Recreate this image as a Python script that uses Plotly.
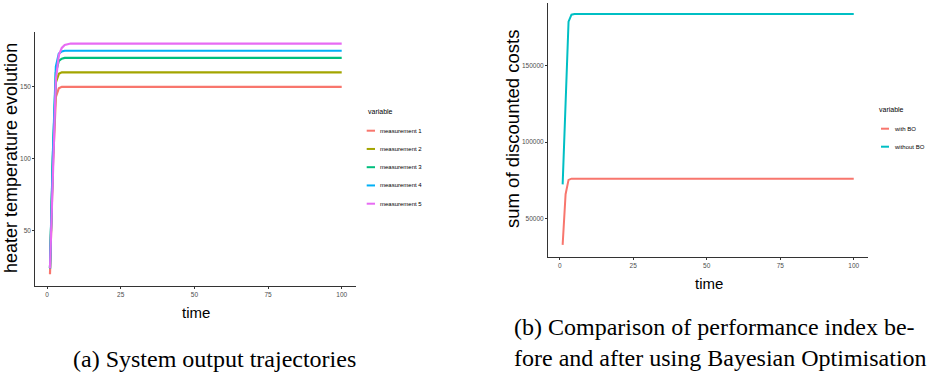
import plotly.graph_objects as go

# ---------------- data ----------------
time_a = [1, 2, 3, 4, 5, 6, 8, 10, 100]
measurement_1 = [20, 95, 143, 149, 150, 150, 150, 150, 150]
measurement_2 = [24, 100, 153, 159, 160, 160, 160, 160, 160]
measurement_3 = [24, 103, 160, 168, 169.5, 170, 170, 170, 170]
measurement_4 = [24, 105, 164, 173, 174.5, 175, 175, 175, 175]
measurement_5 = [24, 95, 155, 172, 177, 179, 180, 180, 180]
names_a = ["measurement 1", "measurement 2", "measurement 3", "measurement 4", "measurement 5"]

time_b = [1, 2, 3, 4, 5, 100]
with_bo = [33000, 66000, 75300, 76100, 76100, 76100]
without_bo = [72400, 127000, 178400, 183000, 183400, 183400]
names_b = ["with BO", "without BO"]

x_ticks = [0, 25, 50, 75, 100]
y_ticks_a = [50, 100, 150]
y_ticks_b = [50000, 100000, 150000]
y_ticklabels_b = ["50000", "100000", "150000"]

# ---------------- styles ----------------
W, H = 930, 374
colors_a = ["#F8766D", "#A3A500", "#00BF7D", "#00B0F6", "#E76BF3"]
colors_b = ["#F8766D", "#00BFC4"]
NARROW = "Liberation Sans Narrow, Arial Narrow, Liberation Sans, Arial, sans-serif"
SANS = "Liberation Sans, Arial, sans-serif"
SERIF = "Liberation Serif, Times New Roman, serif"


def px(x):
    return x / W


def py(y):
    return 1 - y / H


fig = go.Figure()
series_a = [measurement_1, measurement_2, measurement_3, measurement_4, measurement_5]
for name, vals, col in zip(names_a, series_a, colors_a):
    fig.add_trace(go.Scatter(x=time_a, y=vals, mode="lines", name=name,
                             line=dict(color=col, width=2.2), xaxis="x", yaxis="y",
                             showlegend=False))
for name, vals, col in zip(names_b, [with_bo, without_bo], colors_b):
    fig.add_trace(go.Scatter(x=time_b, y=vals, mode="lines", name=name,
                             line=dict(color=col, width=2), xaxis="x2", yaxis="y2",
                             showlegend=False))

axis_common = dict(showline=True, linecolor="#333333", linewidth=1.3, ticks="outside",
                   ticklen=2, tickwidth=1, tickcolor="#333333", showgrid=False,
                   zeroline=False, tickfont=dict(family=NARROW, size=6.5, color="#4D4D4D"))

fig.update_layout(
    width=W, height=H, margin=dict(l=0, r=0, t=0, b=0),
    paper_bgcolor="white", plot_bgcolor="white",
    xaxis=dict(domain=[px(35.4), px(356.3)], range=[-3.95, 104.95], tickvals=x_ticks,
               anchor="y", **axis_common),
    yaxis=dict(domain=[py(285.7), py(32)], range=[12, 188], tickvals=y_ticks_a,
               anchor="x", **axis_common),
    xaxis2=dict(domain=[px(548.1), px(868.3)], range=[-3.95, 104.95], tickvals=x_ticks,
                anchor="y2", **axis_common),
    yaxis2=dict(domain=[py(256.6), py(2.5)], range=[25320, 190930], tickvals=y_ticks_b,
                ticktext=y_ticklabels_b, anchor="x2", **axis_common),
)

ann = []
shapes = []
# axis titles
ann.append(dict(text="time", x=px(196), y=py(312), font=dict(family=NARROW, size=15, color="black")))
ann.append(dict(text="time", x=px(709), y=py(283), font=dict(family=NARROW, size=15, color="black")))
ann.append(dict(text="heater temperature evolution", x=px(11), y=py(158), textangle=-90,
                font=dict(family=SANS, size=18, color="black")))
ann.append(dict(text="sum of discounted costs", x=px(512), y=py(129), textangle=-90,
                font=dict(family=SANS, size=18.5, color="black")))

# legend (a)
ann.append(dict(text="variable", x=px(365.5), y=py(111), xanchor="left",
                font=dict(family=NARROW, size=7, color="black")))
for i, (name, col) in enumerate(zip(names_a, colors_a)):
    yy = 130.7 + 18.25 * i
    shapes.append(dict(type="line", xref="paper", yref="paper", x0=px(366.7), x1=px(375),
                       y0=py(yy), y1=py(yy), line=dict(color=col, width=2)))
    ann.append(dict(text=name, x=px(378), y=py(yy), xanchor="left",
                    font=dict(family=NARROW, size=6, color="black")))

# legend (b)
ann.append(dict(text="variable", x=px(876.5), y=py(109.5), xanchor="left",
                font=dict(family=NARROW, size=7, color="black")))
for i, (name, col) in enumerate(zip(names_b, colors_b)):
    yy = 128.7 + 18 * i
    shapes.append(dict(type="line", xref="paper", yref="paper", x0=px(881), x1=px(889),
                       y0=py(yy), y1=py(yy), line=dict(color=col, width=2)))
    ann.append(dict(text=name, x=px(892), y=py(yy), xanchor="left",
                    font=dict(family=NARROW, size=6, color="black")))

# captions
ann.append(dict(text="(a) System output trajectories", x=px(214), y=py(359),
                font=dict(family=SERIF, size=24, color="black")))
ann.append(dict(text="(b) Comparison of performance index be-", x=px(512), y=py(326.5),
                xanchor="left", font=dict(family=SERIF, size=24, color="black")))
ann.append(dict(text="fore and after using Bayesian Optimisation", x=px(512), y=py(357.5),
                xanchor="left", font=dict(family=SERIF, size=24, color="black")))

for a in ann:
    a.setdefault("xanchor", "center")
    a.setdefault("yanchor", "middle")
    a.update(xref="paper", yref="paper", showarrow=False)

fig.update_layout(annotations=ann, shapes=shapes)
fig.write_html("out.html", config={"displayModeBar": False},
               post_script="document.body.style.margin='0px';document.body.style.overflow='hidden';")
